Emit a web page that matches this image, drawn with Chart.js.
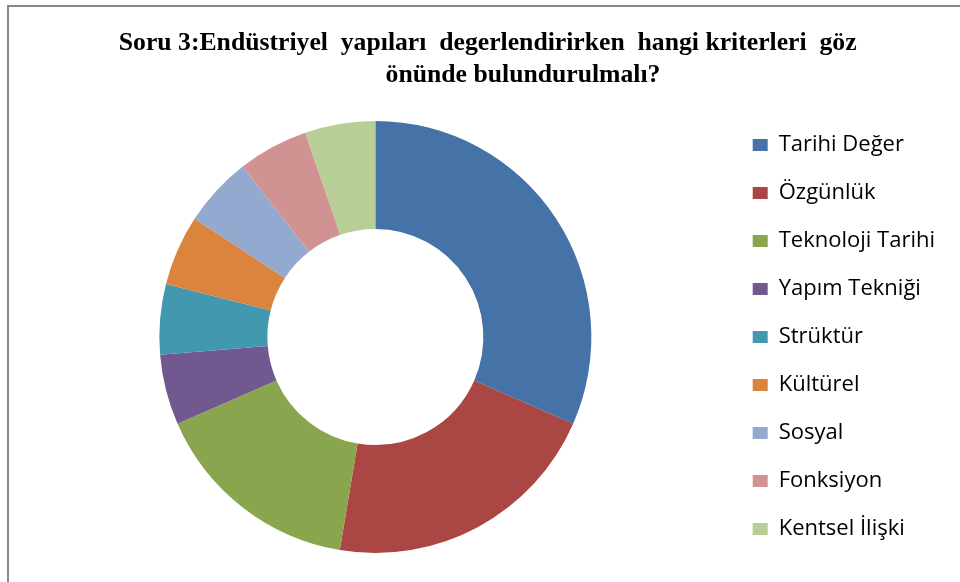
<!DOCTYPE html>
<html>
<head>
<meta charset="utf-8">
<script src="https://cdn.jsdelivr.net/npm/chart.js@4.4.1/dist/chart.umd.min.js"></script>
<style>
    body { margin: 0; background: #fff; }
    #frame {
        position: absolute; left: 7px; top: 5px;
        width: 1000px; height: 620px;
        border: 2px solid #878787;
    }
    #wrap { position: absolute; left: 0; top: 0; width: 960px; height: 582px; }
</style>
</head>
<body>
<div id="frame"></div>
<div id="wrap"><canvas id="chart"></canvas></div>
<script>
let labels = [
    'Tarihi Değer',
    'Özgünlük',
    'Teknoloji Tarihi',
    'Yapım Tekniği',
    'Strüktür',
    'Kültürel',
    'Sosyal',
    'Fonksiyon',
    'Kentsel İlişki',
];
let counts = [6, 4, 3, 1, 1, 1, 1, 1, 1];
let colors = [
    '#4572A7',
    '#AA4643',
    '#89A54E',
    '#71588F',
    '#4198AF',
    '#DB843D',
    '#93A9CF',
    '#D19392',
    '#B9CD96',
];
// leading spaces nudge each line where the original sits
let titleLines = [
    ' Soru 3:Endüstriyel  yapıları  degerlendirirken  hangi kriterleri  göz',
    '            önünde bulundurulmalı?',
];

const ctx = document.getElementById('chart');

const myChart = new Chart(ctx, {
    type: 'doughnut',
    data: {
        labels: labels,
        datasets: [{
            data: counts,
            backgroundColor: colors,
            borderWidth: 0,
            radius: 216,
        }]
    },
    options: {
        responsive: true,
        maintainAspectRatio: false,
        animation: false,
        cutout: '50%',
        layout: {
            padding: { left: 24, right: 15, top: 0, bottom: 2 }
        },
        plugins: {
            title: {
                display: true,
                text: titleLines,
                color: '#000',
                font: { family: '"Liberation Serif", serif', size: 25.7, weight: 'bold', lineHeight: 1.245 },
                padding: { top: 27, bottom: 3 },
            },
            legend: {
                position: 'right',
                fullSize: false,
                labels: {
                    color: '#000',
                    font: { family: '"Open Sans"', size: 22 },
                    boxWidth: 15,
                    boxHeight: 12,
                    padding: 26,
                }
            },
            tooltip: { enabled: false },
        }
    }
});
</script>
</body>
</html>
